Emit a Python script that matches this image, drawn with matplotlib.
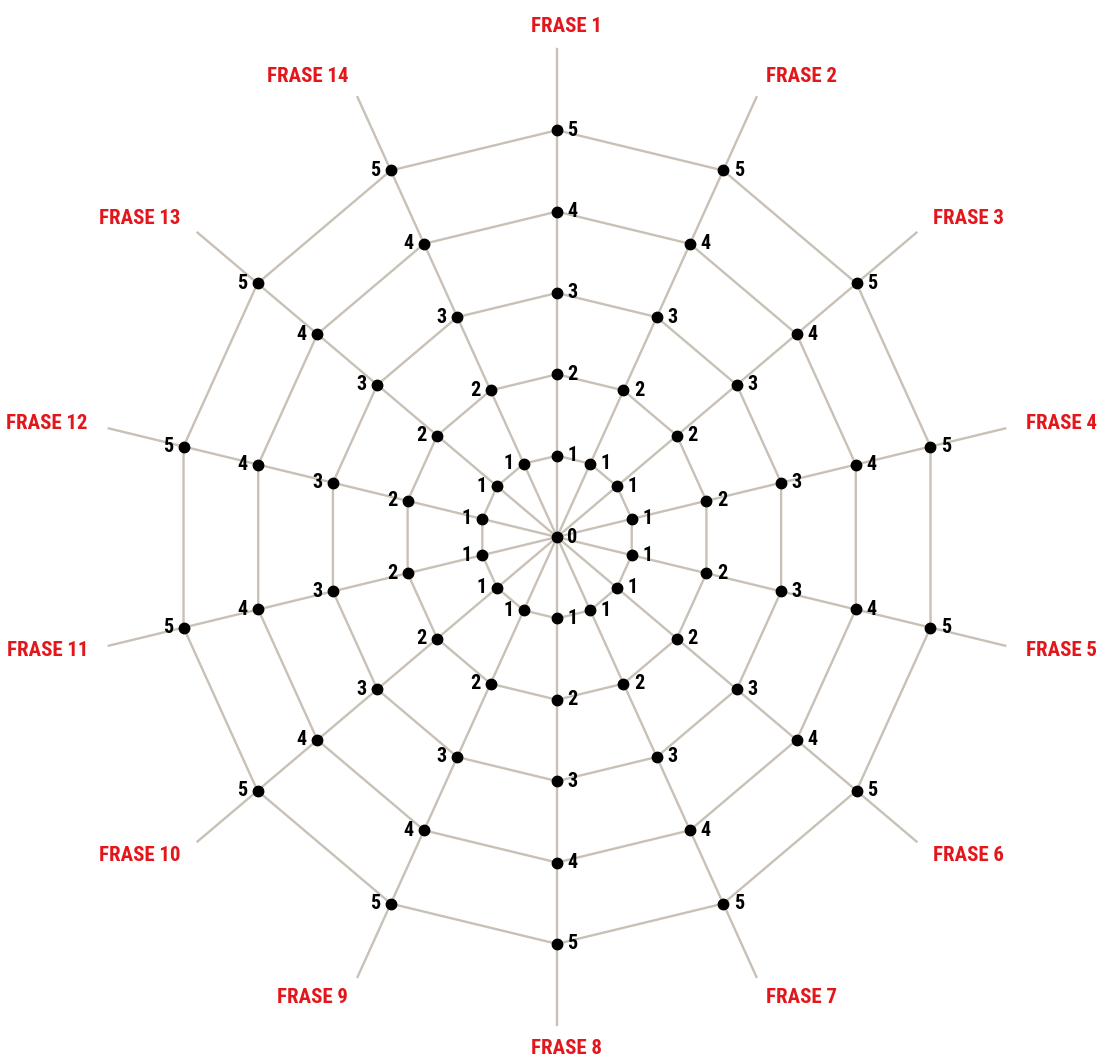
import numpy as np
import matplotlib
matplotlib.use("Agg")
from matplotlib import pyplot as plt

plt.rcParams['font.family'] = ['Roboto Condensed', 'Archivo Narrow', 'DejaVu Sans']

phrases = ['FRASE %d' % i for i in range(1, 15)]
levels = [1, 2, 3, 4, 5]
level_labels = ['1', '2', '3', '4', '5']

web_color = '#c9c0b6'
red = '#e3161b'

n = len(phrases)
angles = np.arange(n) * 2 * np.pi / n  # clockwise from top

fig = plt.figure(figsize=(11.01, 10.57), dpi=100)
ax = fig.add_axes([0, 0, 1, 1])
ax.set_xlim(-7.27, 7.10)
ax.set_ylim(-6.39, 6.60)
ax.axis('off')

sx = np.sin(angles)
cy = np.cos(angles)

# spokes
for a in range(n):
    ax.plot([0, 6.0 * sx[a]], [0, 6.0 * cy[a]], color=web_color, lw=1.7, zorder=1)

# rings
for lv in levels:
    xs = np.append(lv * sx, lv * sx[0])
    ys = np.append(lv * cy, lv * cy[0])
    ax.plot(xs, ys, color=web_color, lw=1.7, zorder=1)

# dots and numbers
off = 7.5
fs_num = 14.5
ax.plot([0], [0], 'o', color='black', ms=7.5, zorder=3)
ax.annotate('0', (0, 0), xytext=(off, 0), textcoords='offset points',
            ha='left', va='center', fontsize=fs_num, fontweight='bold')
for a in range(n):
    left_side = sx[a] < -1e-6
    for lv, lab in zip(levels, level_labels):
        x, y = lv * sx[a], lv * cy[a]
        ax.plot([x], [y], 'o', color='black', ms=7.5, zorder=3)
        if left_side:
            ax.annotate(lab, (x, y), xytext=(-off, 0), textcoords='offset points',
                        ha='right', va='center', fontsize=fs_num, fontweight='bold')
        else:
            ax.annotate(lab, (x, y), xytext=(off, 0), textcoords='offset points',
                        ha='left', va='center', fontsize=fs_num, fontweight='bold')

# phrase labels
for a in range(n):
    x, y = 6.28 * sx[a], 6.28 * cy[a]
    dx = 0
    if abs(sx[a]) < 1e-6:
        ha = 'center'
        dx = 7
    elif sx[a] > 0:
        ha = 'left'
    else:
        ha = 'right'
    ax.annotate(phrases[a], (x, y), xytext=(dx, 0), textcoords='offset points',
                ha=ha, va='center', color=red, fontsize=15, fontweight='bold')

fig.savefig('out.png', dpi=100)
